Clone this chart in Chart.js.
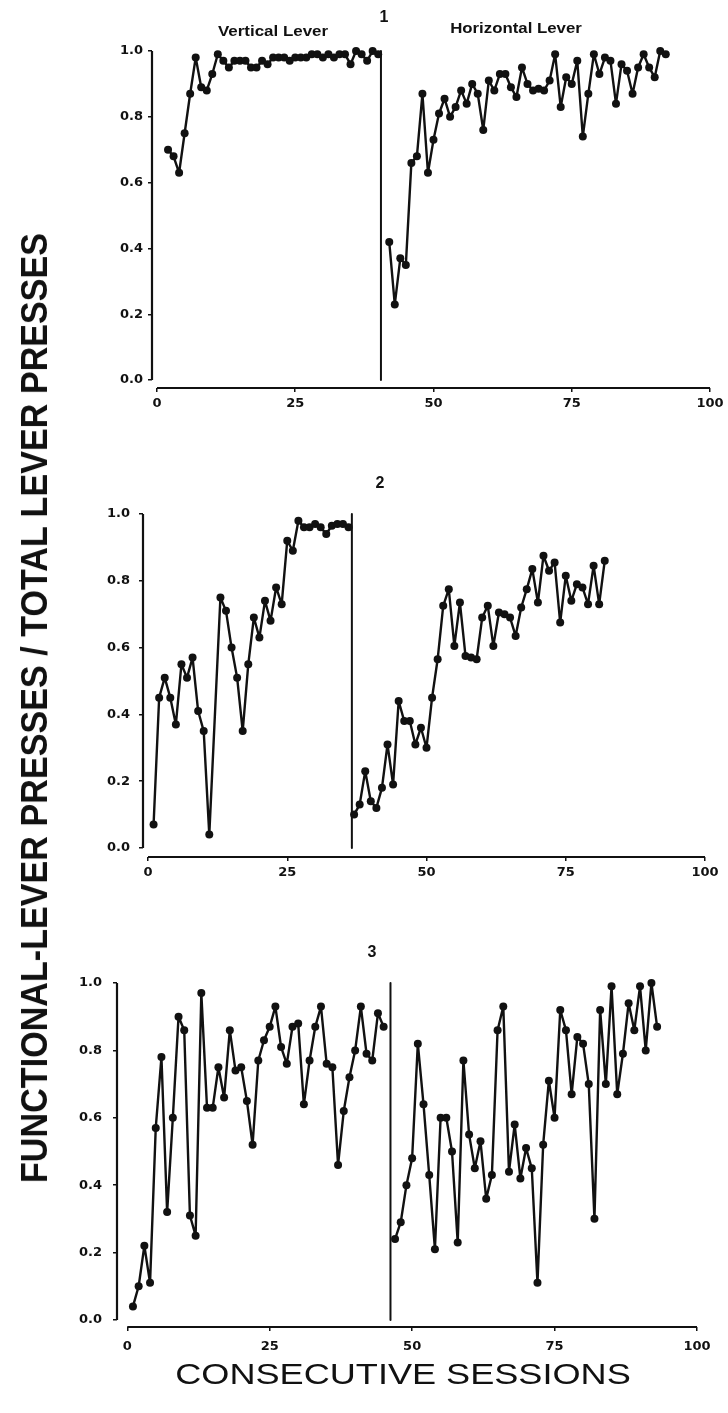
<!DOCTYPE html>
<html>
<head>
<meta charset="utf-8">
<title>Functional-lever presses</title>
<script src="https://cdn.jsdelivr.net/npm/chart.js@4.4.1/dist/chart.umd.min.js"></script>
<style>
  body { margin: 0; background: #fff; width: 728px; height: 1413px; position: relative; overflow: hidden; }
  canvas { position: absolute; left: 0; }
  .txt { position: absolute; white-space: nowrap; line-height: 1; color: #111; font-family: "Liberation Sans", Arial, sans-serif; }
</style>
</head>
<body>
<canvas id="panel1" width="728" height="425" style="top:0px"></canvas>
<canvas id="panel2" width="728" height="440" style="top:440px"></canvas>
<canvas id="panel3" width="728" height="470" style="top:900px"></canvas>

<script>
// axis ticks shared by all three panels
const xTicks = [0, 25, 50, 75, 100];
const yTicks = [0, 0.2, 0.4, 0.6, 0.8, 1.0];

// panel 1
const p1VertSessions = [2, 3, 4, 5, 6, 7, 8, 9, 10, 11, 12, 13, 14, 15, 16, 17, 18, 19, 20, 21,
  22, 23, 24, 25, 26, 27, 28, 29, 30, 31, 32, 33, 34, 35, 36, 37, 38, 39, 40];
const p1VertValues = [0.70, 0.68, 0.63, 0.75, 0.87, 0.98, 0.89, 0.88, 0.93, 0.99, 0.97, 0.95, 0.97, 0.97, 0.97, 0.95, 0.95, 0.97, 0.96, 0.98,
  0.98, 0.98, 0.97, 0.98, 0.98, 0.98, 0.99, 0.99, 0.98, 0.99, 0.98, 0.99, 0.99, 0.96, 1.00, 0.99, 0.97, 1.00, 0.99];
const p1HorSessions = [42, 43, 44, 45, 46, 47, 48, 49, 50, 51, 52, 53, 54, 55, 56, 57, 58, 59, 60, 61,
  62, 63, 64, 65, 66, 67, 68, 69, 70, 71, 72, 73, 74, 75, 76, 77, 78, 79, 80, 81,
  82, 83, 84, 85, 86, 87, 88, 89, 90, 91, 92];
const p1HorValues = [0.42, 0.23, 0.37, 0.35, 0.66, 0.68, 0.87, 0.63, 0.73, 0.81, 0.855, 0.80, 0.83, 0.88, 0.84, 0.90, 0.87, 0.76, 0.91, 0.88,
  0.93, 0.93, 0.89, 0.86, 0.95, 0.90, 0.88, 0.885, 0.88, 0.91, 0.99, 0.83, 0.92, 0.90, 0.97, 0.74, 0.87, 0.99, 0.93, 0.98,
  0.97, 0.84, 0.96, 0.94, 0.87, 0.95, 0.99, 0.95, 0.92, 1.00, 0.99];
const p1Divider = 40.5;

// panel 2
const p2LeftSessions = [1, 2, 3, 4, 5, 6, 7, 8, 9, 10, 11, 13, 14, 15, 16, 17, 18, 19, 20, 21,
  22, 23, 24, 25, 26, 27, 28, 29, 30, 31, 32, 33, 34, 35, 36];
const p2LeftValues = [0.07, 0.45, 0.51, 0.45, 0.37, 0.55, 0.51, 0.57, 0.41, 0.35, 0.04, 0.75, 0.71, 0.60, 0.51, 0.35, 0.55, 0.69, 0.63, 0.74,
  0.68, 0.78, 0.73, 0.92, 0.89, 0.98, 0.96, 0.96, 0.97, 0.96, 0.94, 0.965, 0.97, 0.97, 0.96];
const p2RightSessions = [37, 38, 39, 40, 41, 42, 43, 44, 45, 46, 47, 48, 49, 50, 51, 52, 53, 54, 55, 56,
  57, 58, 59, 60, 61, 62, 63, 64, 65, 66, 67, 68, 69, 70, 71, 72, 73, 74, 75, 76,
  77, 78, 79, 80, 81, 82];
const p2RightValues = [0.10, 0.13, 0.23, 0.14, 0.12, 0.18, 0.31, 0.19, 0.44, 0.38, 0.38, 0.31, 0.36, 0.30, 0.45, 0.565, 0.725, 0.775, 0.605, 0.735,
  0.575, 0.57, 0.565, 0.69, 0.725, 0.605, 0.705, 0.70, 0.69, 0.635, 0.72, 0.775, 0.835, 0.735, 0.875, 0.83, 0.855, 0.675, 0.815, 0.74,
  0.79, 0.78, 0.73, 0.845, 0.73, 0.86];
const p2Divider = 36.6;

// panel 3
const p3LeftSessions = [1, 2, 3, 4, 5, 6, 7, 8, 9, 10, 11, 12, 13, 14, 15, 16, 17, 18, 19, 20,
  21, 22, 23, 24, 25, 26, 27, 28, 29, 30, 31, 32, 33, 34, 35, 36, 37, 38, 39, 40,
  41, 42, 43, 44, 45];
const p3LeftValues = [0.04, 0.10, 0.22, 0.11, 0.57, 0.78, 0.32, 0.60, 0.90, 0.86, 0.31, 0.25, 0.97, 0.63, 0.63, 0.75, 0.66, 0.86, 0.74, 0.75,
  0.65, 0.52, 0.77, 0.83, 0.87, 0.93, 0.81, 0.76, 0.87, 0.88, 0.64, 0.77, 0.87, 0.93, 0.76, 0.75, 0.46, 0.62, 0.72, 0.80,
  0.93, 0.79, 0.77, 0.91, 0.87];
const p3RightSessions = [47, 48, 49, 50, 51, 52, 53, 54, 55, 56, 57, 58, 59, 60, 61, 62, 63, 64, 65, 66,
  67, 68, 69, 70, 71, 72, 73, 74, 75, 76, 77, 78, 79, 80, 81, 82, 83, 84, 85, 86,
  87, 88, 89, 90, 91, 92, 93];
const p3RightValues = [0.24, 0.29, 0.40, 0.48, 0.82, 0.64, 0.43, 0.21, 0.60, 0.60, 0.50, 0.23, 0.77, 0.55, 0.45, 0.53, 0.36, 0.43, 0.86, 0.93,
  0.44, 0.58, 0.42, 0.51, 0.45, 0.11, 0.52, 0.71, 0.60, 0.92, 0.86, 0.67, 0.84, 0.82, 0.70, 0.30, 0.92, 0.70, 0.99, 0.67,
  0.79, 0.94, 0.86, 0.99, 0.80, 1.00, 0.87];
const p3Divider = 46.2;

const ink = "#111";

// detached spines: y from 0 to 1, x from 0 to 100
const spines = {
  id: "spines",
  afterDraw(chart) {
    const { ctx, chartArea, scales } = chart;
    const x = scales.x, y = scales.y;
    ctx.save();
    ctx.strokeStyle = ink;
    ctx.lineWidth = 2.2;
    ctx.beginPath();
    ctx.moveTo(chartArea.left, y.getPixelForValue(yTicks[0]));
    ctx.lineTo(chartArea.left, y.getPixelForValue(yTicks[yTicks.length - 1]));
    ctx.moveTo(x.getPixelForValue(xTicks[0]), chartArea.bottom);
    ctx.lineTo(x.getPixelForValue(xTicks[xTicks.length - 1]), chartArea.bottom);
    ctx.stroke();
    ctx.restore();
  }
};

function points(sessions, values) {
  return sessions.map((s, i) => ({ x: s, y: values[i] }));
}

function drawPanel(id, box, first, second, divider) {
  const series = {
    borderColor: ink,
    backgroundColor: ink,
    borderWidth: 2.4,
    borderJoinStyle: "round",
    borderCapStyle: "round",
    pointRadius: 4,
    pointHoverRadius: 4,
    pointBorderWidth: 0,
    pointBackgroundColor: ink,
    tension: 0,
    clip: false
  };
  const tickFont = { family: "DejaVu Sans", size: 13, weight: "bold" };
  const axisH = 30;

  return new Chart(document.getElementById(id), {
    type: "line",
    data: {
      datasets: [
        { ...series, data: points(first[0], first[1]) },
        { ...series, data: points(second[0], second[1]) },
        { ...series, borderWidth: 2, pointRadius: 0, data: [{ x: divider, y: 0 }, { x: divider, y: 1 }] }
      ]
    },
    options: {
      responsive: false,
      animation: false,
      events: [],
      layout: { padding: { left: 0, top: box.top, right: 728 - box.right, bottom: box.h - box.bottom - axisH } },
      plugins: { legend: { display: false }, tooltip: { enabled: false } },
      scales: {
        x: {
          type: "linear",
          min: box.xMin,
          max: 100,
          afterBuildTicks: s => { s.ticks = xTicks.map(v => ({ value: v })); },
          afterFit: s => { s.height = axisH; },
          border: { display: false },
          grid: { drawOnChartArea: false, tickLength: 4, color: ink, lineWidth: 1.5 },
          ticks: { padding: box.xPad, color: ink, font: tickFont, maxRotation: 0, autoSkip: false, callback: v => String(v) }
        },
        y: {
          type: "linear",
          min: box.yMin,
          max: 1,
          afterBuildTicks: s => { s.ticks = yTicks.map(v => ({ value: v })); },
          afterFit: s => { s.width = box.left; },
          border: { display: false },
          grid: { drawOnChartArea: false, tickLength: 4, color: ink, lineWidth: 1.5 },
          ticks: { padding: box.yPad, color: ink, font: tickFont, autoSkip: false, callback: v => v.toFixed(1) }
        }
      }
    },
    plugins: [spines]
  });
}

drawPanel("panel1", { h: 425, left: 152, right: 710, top: 51, bottom: 388, xMin: -0.9, yMin: -0.024, xPad: 4, yPad: 5 },
  [p1VertSessions, p1VertValues], [p1HorSessions, p1HorValues], p1Divider);
drawPanel("panel2", { h: 440, left: 143, right: 705, top: 74, bottom: 417, xMin: -0.9, yMin: -0.027, xPad: 4, yPad: 9 },
  [p2LeftSessions, p2LeftValues], [p2RightSessions, p2RightValues], p2Divider);
drawPanel("panel3", { h: 470, left: 117, right: 697, top: 83, bottom: 427, xMin: -1.8, yMin: -0.021, xPad: 8, yPad: 11 },
  [p3LeftSessions, p3LeftValues], [p3RightSessions, p3RightValues], p3Divider);

// page text: centred at (cx, cy), optionally stretched to a given length
function addText(text, cx, cy, size, weight, length, rotate) {
  const el = document.createElement("div");
  el.className = "txt";
  el.textContent = text;
  el.style.fontSize = size + "px";
  el.style.fontWeight = weight;
  el.style.left = cx + "px";
  el.style.top = cy + "px";
  document.body.appendChild(el);
  const k = length ? length / el.offsetWidth : 1;
  el.style.transform = "translate(-50%, -50%)" + (rotate ? " rotate(-90deg)" : "") + " scaleX(" + k + ")";
}

addText("1", 384, 17, 16, "bold");
addText("Vertical Lever", 273, 31, 14, "bold", 110);
addText("Horizontal Lever", 516, 28, 14, "bold", 132);
addText("2", 380, 483, 16, "bold");
addText("3", 372, 952, 16, "bold");
addText("FUNCTIONAL-LEVER PRESSES / TOTAL LEVER PRESSES", 35, 708, 36, "bold", 950, true);
addText("CONSECUTIVE SESSIONS", 403, 1374, 30, "normal", 455);
</script>
</body>
</html>
